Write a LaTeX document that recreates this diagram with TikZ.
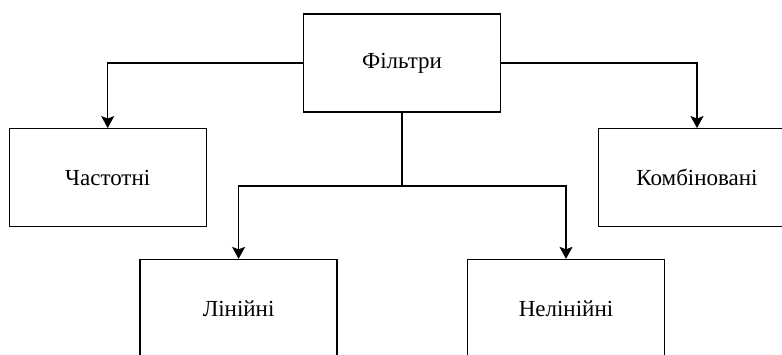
\documentclass[tikz,border=0pt]{standalone}
\usepackage{fontspec}
\setmainfont{Liberation Serif}
\usetikzlibrary{arrows.meta,positioning}
\tikzset{
  blok/.style={draw,line width=1.3pt,minimum width=197pt,minimum height=98pt,inner sep=0pt,font=\fontsize{23}{27}\selectfont},
  strilka/.style={line width=1.3pt,-{Stealth[width=13pt,length=12pt,inset=2.5pt]}},
  liniya/.style={line width=1.3pt}
}
\begin{document}
\begin{tikzpicture}[x=1pt,y=-1pt]
            \useasboundingbox (0,0) rectangle (782,354);
            \node[blok] (filtry) at (402,63){Фільтри};
            \node[blok] (chastotni) at (107.7,177.7){Частотні};
            \node[blok] (kombin) at (697,177.7){Комбіновані};
            \node[blok] (liniini) at (238.6,308.5){Лінійні};
            \node[blok] (neliniini) at (566,308.5){Нелінійні};
            \coordinate (rozgal) at (402,186);
            \draw[strilka] (filtry.west) -| (chastotni.north);
            \draw[strilka] (filtry.east) -| (kombin.north);
            \draw[liniya] (filtry.south) -- (rozgal);
            \draw[strilka] (rozgal) -| (liniini.north);
            \draw[strilka] (rozgal) -| (neliniini.north);
        \end{tikzpicture}
\end{document}
